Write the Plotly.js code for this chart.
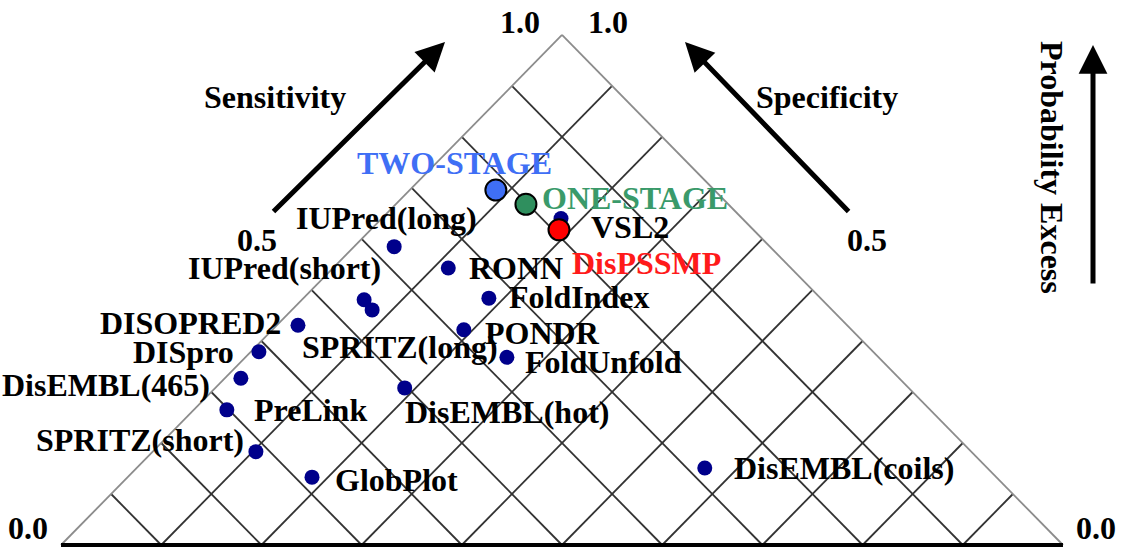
<!DOCTYPE html>
<html>
<head>
<meta charset="utf-8">
<script src="https://cdn.plot.ly/plotly-3.0.1.min.js"></script>
<style>html,body{margin:0;padding:0;background:#fff;}#chart{width:1124px;height:549px;}</style>
</head>
<body>
<div id="chart"></div>
<script>
// ---- data ----
const methods = ["VSL2","IUPred(long)","RONN","IUPred(short)","SPRITZ(long)","FoldIndex","DISOPRED2","PONDR","DISpro","FoldUnfold","DisEMBL(465)","DisEMBL(hot)","PreLink","SPRITZ(short)","GlobPlot","DisEMBL(coils)"];
const sensitivity = [0.819,0.625,0.658,0.543,0.541,0.669,0.452,0.613,0.387,0.629,0.343,0.497,0.298,0.286,0.317,0.718];
const specificity = [0.821,0.960,0.885,0.938,0.920,0.815,0.979,0.809,0.992,0.739,0.984,0.811,0.967,0.897,0.816,0.433];

const highlightNames = ["TWO-STAGE","ONE-STAGE","DisPSSMP"];
const highlightSens = [0.782,0.798,0.806];
const highlightSpec = [0.914,0.870,0.812];

const gridValues = [0.1,0.2,0.3,0.4,0.5,0.6,0.7,0.8,0.9];
const tickValues = [0.0,0.5,1.0];
const tickLabels = ["0.0","0.5","1.0"];

// ---- style ----
const highlightColors = ["#3f6ff5","#2f8f5e","#ff0000"];
const highlightTextColors = ["#3f6ff5","#3a9a6a","#ff1a1a"];
// [xanchor, xshift, yshift]
const labelPlace = {
  "VSL2":["left",28,-8], "IUPred(long)":["center",-8,29], "RONN":["left",19,0],
  "IUPred(short)":["right",19,32], "SPRITZ(long)":["center",28,-37], "FoldIndex":["left",18,1],
  "DISOPRED2":["right",-15,2], "PONDR":["left",19,-3], "DISpro":["right",-23,0],
  "FoldUnfold":["left",16,-5], "DisEMBL(465)":["right",-29,-7], "DisEMBL(hot)":["left",-2,-24],
  "PreLink":["left",25,0], "SPRITZ(short)":["right",-10,12], "GlobPlot":["left",21,-3],
  "DisEMBL(coils)":["left",27,0],
  "TWO-STAGE":["center",-41,27], "ONE-STAGE":["left",14,6], "DisPSSMP":["left",11,-33]
};
const FONT = "Liberation Serif, Times New Roman, serif";
const FS = 32;

// transform (sensitivity, specificity) -> triangle coords
const tx = (se, sp) => se - sp;
const ty = (se, sp) => se + sp - 1;

// grid
const gx = [], gy = [];
gridValues.forEach(t => {
  gx.push(tx(t,1), tx(t,1-t), null); gy.push(ty(t,1), ty(t,1-t), null);
  gx.push(tx(1,t), tx(1-t,t), null); gy.push(ty(1,t), ty(1-t,t), null);
});
const traces = [];
traces.push({x:gx,y:gy,mode:"lines",line:{color:"#333333",width:1.8},hoverinfo:"skip",showlegend:false});
traces.push({x:[tx(0,1),tx(1,1),null,tx(1,1),tx(1,0)],y:[ty(0,1),ty(1,1),null,ty(1,1),ty(1,0)],
  mode:"lines",line:{color:"#8c8c8c",width:1.8},hoverinfo:"skip",showlegend:false});
traces.push({x:[tx(0,1),tx(1,0)],y:[ty(0,1),ty(1,0)],mode:"lines",line:{color:"#000",width:4},hoverinfo:"skip",showlegend:false});

traces.push({x:methods.map((m,i)=>tx(sensitivity[i],specificity[i])),
  y:methods.map((m,i)=>ty(sensitivity[i],specificity[i])),
  mode:"markers",marker:{color:"#00008b",size:15},hoverinfo:"text",text:methods,showlegend:false});
traces.push({x:highlightNames.map((m,i)=>tx(highlightSens[i],highlightSpec[i])),
  y:highlightNames.map((m,i)=>ty(highlightSens[i],highlightSpec[i])),
  mode:"markers",marker:{color:highlightColors,size:21,line:{color:"#000",width:2}},hoverinfo:"text",text:highlightNames,showlegend:false});

const ann = [];
methods.forEach((m,i)=>{
  const p = labelPlace[m];
  ann.push({x:tx(sensitivity[i],specificity[i]),y:ty(sensitivity[i],specificity[i]),xref:"x",yref:"y",
    text:"<b>"+m+"</b>",showarrow:false,xanchor:p[0],yanchor:"middle",xshift:p[1],yshift:p[2],
    font:{family:FONT,size:FS,color:"#000"}});
});
highlightNames.forEach((m,i)=>{
  const p = labelPlace[m];
  ann.push({x:tx(highlightSens[i],highlightSpec[i]),y:ty(highlightSens[i],highlightSpec[i]),xref:"x",yref:"y",
    text:"<b>"+m+"</b>",showarrow:false,xanchor:p[0],yanchor:"middle",xshift:p[1],yshift:p[2],
    font:{family:FONT,size:FS,color:highlightTextColors[i]}});
});
// tick labels along sides
const leftTickShift = [[-33,17],[-55,50],[-42,13]];
const rightTickShift = [[33,17],[55,50],[46,13]];
tickValues.forEach((t,i)=>{
  ann.push({x:tx(t,1),y:ty(t,1),xref:"x",yref:"y",text:"<b>"+tickLabels[i]+"</b>",showarrow:false,
    xanchor:"center",yanchor:"middle",xshift:leftTickShift[i][0],yshift:leftTickShift[i][1],
    font:{family:FONT,size:FS,color:"#000"}});
  ann.push({x:tx(1,t),y:ty(1,t),xref:"x",yref:"y",text:"<b>"+tickLabels[i]+"</b>",showarrow:false,
    xanchor:"center",yanchor:"middle",xshift:rightTickShift[i][0],yshift:rightTickShift[i][1],
    font:{family:FONT,size:FS,color:"#000"}});
});
// axis titles and arrows (paper coords)
const W=1124,H=549;
const px=(v)=>v/W, py=(v)=>1-v/H;
const titleStyle = {xref:"paper",yref:"paper",showarrow:false,xanchor:"center",yanchor:"middle",font:{family:FONT,size:FS,color:"#000"}};
ann.push(Object.assign({},titleStyle,{x:px(275),y:py(97),text:"<b>Sensitivity</b>"}));
ann.push(Object.assign({},titleStyle,{x:px(827),y:py(97),text:"<b>Specificity</b>"}));
ann.push(Object.assign({},titleStyle,{x:px(1052),y:py(167),text:"<b>Probability Excess</b>",textangle:90}));
const arrowStyle = {showarrow:true,arrowhead:2,arrowsize:1.15,arrowwidth:5,arrowcolor:"#000",text:"",xref:"paper",yref:"paper",axref:"pixel",ayref:"pixel"};
ann.push(Object.assign({},arrowStyle,{x:px(445),y:py(42),ax:-173,ay:171}));
ann.push(Object.assign({},arrowStyle,{x:px(685),y:py(42),ax:165,ay:171}));
ann.push(Object.assign({},arrowStyle,{x:px(1093),y:py(45),ax:0,ay:240}));

const layout = {
  width:W,height:H,margin:{l:0,r:0,t:0,b:0},paper_bgcolor:"#fff",plot_bgcolor:"#fff",
  xaxis:{range:[-1.1218,1.1218],visible:false,fixedrange:true},
  yaxis:{range:[-0.00784,1.0686],visible:false,fixedrange:true},
  annotations:ann,showlegend:false
};
Plotly.newPlot("chart",traces,layout,{staticPlot:true});
</script>
</body>
</html>
